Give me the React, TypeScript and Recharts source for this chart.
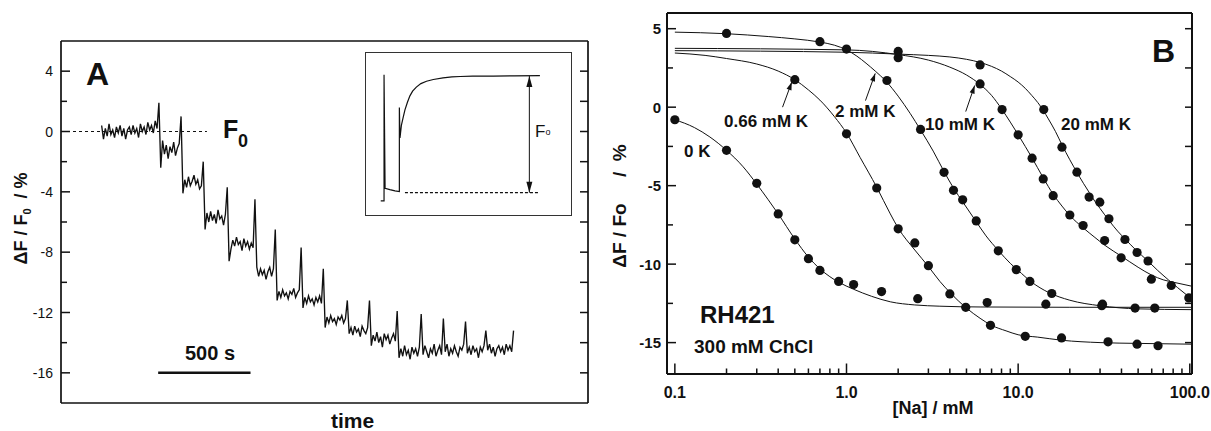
import {
  ComposedChart,
  Line,
  ReferenceLine,
  Scatter,
  XAxis,
  YAxis,
} from "recharts";

const FONT = '"Liberation Sans", Arial, Helvetica, sans-serif';
const INK = "#111";

// ---------- Panel A: stepwise fluorescence trace ----------
const A_T_DOMAIN: [number, number] = [0, 2853]; // s
const A_Y_DOMAIN: [number, number] = [-18, 6];
const A_Y_TICKS = [4, 2, 0, -2, -4, -6, -8, -10, -12, -14, -16];
const A_Y_LABELED = [4, 0, -4, -8, -12, -16];

const TRACE_START = 220; // s
const TRACE_STEP = 10; // s between samples
// ΔF/F0 in %
const TRACE = [
  0.4, -0.5, 0.2, -0.3, 0.5, -0.2, 0.1, -0.4, 0.3, -0.1, 0.4, -0.3, 0.2, -0.5, 0.1, 0.3,
  -0.2, 0.4, -0.1, 0.2, -0.4, 0.5, 0.0, 0.3, -0.2, 0.6, 0.1, 0.4, -0.1, 0.7, 0.2,
  1.9, -2.4,
  -0.6, -1.5, -0.9, -1.8, -1.0, -1.4, -0.7, -1.6, -1.1, -0.8,
  1.0,
  -4.1, -3.2, -3.7, -3.0, -3.6, -3.3, -2.9, -3.5, -3.2, -3.8, -3.6,
  -2.0,
  -6.5, -5.4, -6.0, -5.3, -5.9, -5.5, -6.1, -5.2, -5.8, -5.6, -6.2, -5.5,
  -3.7, -8.6,
  -7.8, -7.2, -7.6, -7.0, -7.5, -7.3, -7.9, -7.1, -7.6, -7.3, -7.8, -7.4, -7.7,
  -4.5,
  -9.0, -9.6, -9.1, -9.5, -9.2, -9.8, -9.3, -9.0, -9.6, -9.1,
  -6.5,
  -11.2, -10.6, -11.0, -10.5, -10.9, -10.7, -11.1, -10.6, -10.8, -10.4, -11.0, -10.7, -10.5,
  -7.7,
  -11.7, -11.0, -11.4, -10.9, -11.3, -11.1, -11.5, -11.0, -11.3, -10.9, -11.4,
  -9.1,
  -13.0, -12.3, -12.7, -12.2, -12.6, -12.4, -12.8, -12.3, -12.5, -12.2, -12.7, -12.4,
  -11.2,
  -13.4, -13.0, -13.5, -12.9, -13.3, -13.1, -13.6, -12.9, -13.2, -13.4, -13.0,
  -11.2,
  -14.2, -13.5, -13.9, -13.3, -14.0, -13.6, -14.3, -13.4, -13.8, -13.5, -14.1, -13.7, -13.4, -13.9,
  -11.9,
  -15.0, -14.4, -14.9, -14.2, -14.8, -14.5, -15.1, -14.3, -14.7, -14.4, -14.9, -14.3,
  -12.1,
  -14.8, -14.2, -14.6, -15.0, -14.4, -14.7, -14.1, -14.9, -14.5, -14.2, -14.8,
  -12.4,
  -14.6, -14.1, -14.9, -14.4, -14.7, -14.2, -14.6, -14.9, -14.3, -14.5, -14.1,
  -12.6,
  -14.7, -14.3, -14.8, -14.2, -14.6, -14.4, -15.0, -14.3, -14.6, -14.2,
  -13.2,
  -14.5, -14.1, -14.7, -14.3, -14.9, -14.4, -14.2, -14.6, -14.3, -14.8, -14.1, -14.5, -14.2, -14.6,
  -13.2,
];
const F0_LINE_END = 790; // s
const SCALE_BAR_START = 526; // s
const SCALE_BAR_LEN = 500; // s
const SCALE_BAR_LEVEL = -16;

// inset: single addition, arbitrary units (0 = baseline, 100 = F0)
const INSET_T = [7.6, 9.2, 9.2, 9.7, 12.0, 14.5, 16.6, 16.6, 16.9, 17.6, 18.5, 19.3, 20.5, 21.7, 23.0, 24.8, 27.0, 29.7, 33.0, 37.7, 42.0, 46.0, 52.0, 62.0, 72.0, 84.5];
const INSET_F = [-7, -7, 101, 3.8, 2.6, 1.6, 0.9, 73, 47, 58, 65, 71, 77.5, 83, 87, 90.5, 93.5, 95.5, 97, 98.4, 99.2, 99.6, 99.9, 100, 100.2, 100.3];
const INSET_BASE: [number, number] = [19.3, 84.3];
const INSET_ARROW_AT = 79.4;

// ---------- Panel B: titrations vs [Na] ----------
const B_X_DOMAIN: [number, number] = [0.09, 103];
const B_Y_DOMAIN: [number, number] = [-17, 6];
const B_X_MAJOR = [0.1, 1, 10, 100];
const B_X_MINOR = [0.2, 0.3, 0.4, 0.5, 0.6, 0.7, 0.8, 0.9, 2, 3, 4, 5, 6, 7, 8, 9, 20, 30, 40, 50, 60, 70, 80, 90];
const B_Y_MAJOR = [5, 0, -5, -10, -15];
const B_Y_MINOR = [2.5, -2.5, -7.5, -12.5];

type P = [number, number];

const PTS_0K: P[] = [[0.1, -0.8], [0.2, -2.75], [0.3, -4.85], [0.4, -6.8], [0.5, -8.45], [0.6, -9.65], [0.7, -10.4], [0.9, -11.1], [1.1, -11.3], [1.6, -11.75], [2.6, -12.2], [6.6, -12.45], [14.5, -12.55], [31, -12.55]];
const FIT_0K: P[] = [[0.1, -0.8], [0.13, -1.3], [0.16, -1.9], [0.2, -2.75], [0.25, -3.8], [0.3, -4.9], [0.35, -5.9], [0.4, -6.8], [0.5, -8.4], [0.6, -9.55], [0.7, -10.3], [0.8, -10.8], [0.9, -11.15], [1.1, -11.6], [1.4, -12.05], [1.8, -12.4], [2.5, -12.6], [3.5, -12.68], [6, -12.73], [20, -12.75], [102, -12.75]];

const PTS_066: P[] = [[0.5, 1.75], [1.0, -1.7], [1.5, -5.15], [2.0, -7.75], [2.5, -8.65], [3.0, -10.1], [4.0, -11.9], [4.95, -12.75], [6.9, -13.9], [11, -14.6], [17.9, -14.7], [33.4, -14.95], [49.3, -15.1], [65.3, -15.2]];
const FIT_066: P[] = [[0.1, 3.45], [0.15, 3.3], [0.2, 3.1], [0.3, 2.75], [0.4, 2.3], [0.5, 1.75], [0.6, 1.1], [0.7, 0.45], [0.85, -0.6], [1.0, -1.65], [1.2, -3.2], [1.5, -5.1], [1.8, -6.8], [2.0, -7.7], [2.5, -9.1], [3.0, -10.15], [3.5, -11.1], [4.0, -11.8], [5.0, -12.8], [6.0, -13.45], [7.0, -13.9], [8.5, -14.25], [10, -14.5], [13, -14.65], [18, -14.85], [30, -15.0], [50, -15.05], [102, -15.1]];

const PTS_2: P[] = [[0.2, 4.7], [0.7, 4.17], [1.0, 3.7], [1.72, 1.7], [2.7, -1.42], [3.7, -4.15], [4.2, -5.3], [4.75, -5.9], [5.7, -7.25], [7.66, -9.15], [9.75, -10.35], [11.7, -11.1], [15.7, -11.87], [30.7, -12.65], [48, -12.8], [62.5, -12.8]];
const FIT_2: P[] = [[0.1, 4.78], [0.2, 4.68], [0.35, 4.5], [0.5, 4.35], [0.7, 4.15], [0.85, 3.95], [1.0, 3.65], [1.15, 3.25], [1.3, 2.8], [1.47, 2.3], [1.7, 1.65], [2.0, 0.7], [2.35, -0.4], [2.7, -1.45], [3.2, -2.8], [3.7, -4.1], [4.2, -5.15], [4.8, -6.1], [5.7, -7.3], [6.5, -8.2], [7.7, -9.15], [9.0, -9.95], [10, -10.4], [12, -11.15], [15, -11.8], [20, -12.3], [30, -12.65], [50, -12.85], [102, -12.9]];

const PTS_10: P[] = [[2.0, 3.15], [6.0, 1.48], [8.06, -0.15], [10, -1.76], [12.06, -3.25], [14, -4.57], [16, -5.64], [20, -6.87], [23.9, -7.54], [31.9, -8.5], [39.8, -9.6], [59.7, -10.96], [78, -11.36]];
const FIT_10: P[] = [[0.1, 3.75], [1, 3.65], [2, 3.35], [3, 3.0], [4, 2.55], [5, 2.05], [6, 1.45], [7, 0.75], [8, -0.1], [9, -0.95], [10, -1.75], [11, -2.5], [12, -3.2], [14, -4.5], [16, -5.55], [18, -6.3], [20, -6.9], [24, -7.7], [28, -8.3], [32, -8.8], [40, -9.5], [50, -10.2], [60, -10.7], [70, -11.0], [80, -11.15], [102, -11.4]];

const PTS_20: P[] = [[2.0, 3.55], [6.0, 2.69], [14.1, -0.15], [18, -2.55], [22, -4.14], [25.9, -5.73], [29.9, -6.05], [33.8, -7.11], [41.9, -8.43], [49.3, -9.26], [57.1, -9.8], [98.7, -12.15]];
const FIT_20: P[] = [[0.1, 3.6], [1, 3.5], [2, 3.38], [3, 3.3], [4, 3.2], [5, 3.05], [6, 2.85], [7, 2.6], [8, 2.3], [9, 1.95], [10, 1.6], [11, 1.2], [12, 0.75], [13, 0.3], [14, -0.2], [15, -0.75], [16.5, -1.55], [18, -2.4], [20, -3.35], [22, -4.15], [24, -4.85], [26, -5.45], [28, -6.0], [30, -6.45], [34, -7.25], [38, -7.9], [42, -8.4], [48, -9.05], [57, -9.8], [65, -10.4], [75, -11.0], [85, -11.5], [102, -12.2]];

// label arrows: tail -> tip, in data units
const ARROW_066: [P, P] = [[0.424, 0.0], [0.48, 1.6]];
const ARROW_2: [P, P] = [[1.29, 0.42], [1.47, 2.15]];
const ARROW_10: [P, P] = [[4.95, -0.28], [5.58, 1.38]];

const xy = (pts: P[]) => pts.map(([x, y]) => ({ x, y }));
const traceData = TRACE.map((v, i) => ({ t: TRACE_START + i * TRACE_STEP, v }));
const insetData = INSET_T.map((t, i) => ({ t, f: INSET_F[i] }));

function arrowShape(both: boolean, len: number, half: number) {
  return (p: any) => {
    const { x1, y1, x2, y2 } = p;
    const d = Math.hypot(x2 - x1, y2 - y1) || 1;
    const ux = (x2 - x1) / d;
    const uy = (y2 - y1) / d;
    const head = (tx: number, ty: number, s: number) => {
      const bx = tx - s * ux * len;
      const by = ty - s * uy * len;
      return `${tx},${ty} ${bx - uy * half},${by + ux * half} ${bx + uy * half},${by - ux * half}`;
    };
    return (
      <g>
        <line x1={x1} y1={y1} x2={x2} y2={y2} stroke={INK} strokeWidth={1} />
        <polygon points={head(x2, y2, 1)} fill={INK} />
        {both && <polygon points={head(x1, y1, -1)} fill={INK} />}
      </g>
    );
  };
}

const aYTick = (side: "left" | "right") => (p: any) => {
  const v = p.payload.value as number;
  if (side === "right") {
    return <line x1={p.x} x2={p.x - 8} y1={p.y} y2={p.y} stroke={INK} strokeWidth={1.5} />;
  }
  const major = A_Y_LABELED.includes(v);
  return (
    <g>
      <line x1={p.x} x2={p.x + (major ? 9 : 6)} y1={p.y} y2={p.y} stroke={INK} strokeWidth={1.5} />
      {major && (
        <text x={p.x - 8} y={p.y} dy="0.36em" textAnchor="end" fontSize={14} fontFamily={FONT} fill={INK}>
          {v}
        </text>
      )}
    </g>
  );
};

const bYTick = (side: "left" | "right") => (p: any) => {
  const v = p.payload.value as number;
  const major = B_Y_MAJOR.includes(v);
  const dir = side === "left" ? 1 : -1;
  const len = side === "left" ? (major ? 9 : 6) : 7;
  return (
    <g>
      <line x1={p.x} x2={p.x + dir * len} y1={p.y} y2={p.y} stroke={INK} strokeWidth={1.5} />
      {side === "left" && major && (
        <text x={p.x - 6} y={p.y} dy="0.36em" textAnchor="end" fontSize={15} fontWeight="bold" fontFamily={FONT} fill={INK}>
          {v}
        </text>
      )}
    </g>
  );
};

const bXTick = (side: "top" | "bottom") => (p: any) => {
  const v = p.payload.value as number;
  const major = B_X_MAJOR.includes(v);
  const dir = side === "bottom" ? -1 : 1;
  const len = major ? 10.5 : 5.5;
  return (
    <g>
      <line x1={p.x} x2={p.x} y1={p.y} y2={p.y + dir * len} stroke={INK} strokeWidth={1.5} />
      {side === "bottom" && major && (
        <text x={p.x} y={p.y + 24} textAnchor="middle" fontSize={16} fontWeight="bold" fontFamily={FONT} fill={INK}>
          {v.toFixed(1)}
        </text>
      )}
    </g>
  );
};

const frameA = { stroke: INK, strokeWidth: 1.7 };
const frameB = { stroke: INK, strokeWidth: 2 };
const dot = (p: any) => <circle cx={p.cx} cy={p.cy} r={4.6} fill={INK} />;

function PanelA() {
  return (
    <ComposedChart width={600} height={431} margin={{ top: 0, right: 0, bottom: 0, left: 0 }}>
      <XAxis type="number" dataKey="t" domain={A_T_DOMAIN} allowDataOverflow height={28} tick={false} tickLine={false} axisLine={frameA} />
      <XAxis xAxisId="top" orientation="top" type="number" domain={A_T_DOMAIN} allowDataOverflow height={41} tick={false} tickLine={false} axisLine={frameA} />
      <YAxis type="number" domain={A_Y_DOMAIN} allowDataOverflow width={61} ticks={A_Y_TICKS} interval={0} tickSize={0} tickMargin={0} tickLine={false} axisLine={frameA} tick={aYTick("left")} />
      <YAxis yAxisId="right" orientation="right" type="number" domain={A_Y_DOMAIN} allowDataOverflow width={12} ticks={A_Y_TICKS} interval={0} tickSize={0} tickMargin={0} tickLine={false} axisLine={frameA} tick={aYTick("right")} />
      <ReferenceLine segment={[{ x: 0, y: 0 }, { x: F0_LINE_END, y: 0 }]} stroke={INK} strokeWidth={1} strokeDasharray="3 3" />
      <ReferenceLine
        segment={[{ x: SCALE_BAR_START, y: SCALE_BAR_LEVEL }, { x: SCALE_BAR_START + SCALE_BAR_LEN, y: SCALE_BAR_LEVEL }]}
        stroke={INK}
        strokeWidth={2.5}
      />
      <Line data={traceData} dataKey="v" type="linear" dot={false} stroke={INK} strokeWidth={1.35} isAnimationActive={false} />
    </ComposedChart>
  );
}

function Inset() {
  return (
    <ComposedChart width={207} height={164} margin={{ top: 0, right: 0, bottom: 0, left: 0 }}>
      <XAxis hide type="number" dataKey="t" domain={[0, 100]} allowDataOverflow />
      <YAxis hide type="number" domain={[-20, 120.6]} allowDataOverflow />
      <ReferenceLine segment={[{ x: INSET_BASE[0], y: 0 }, { x: INSET_BASE[1], y: 0 }]} stroke={INK} strokeWidth={1.3} strokeDasharray="3 2" />
      <ReferenceLine segment={[{ x: INSET_ARROW_AT, y: 0 }, { x: INSET_ARROW_AT, y: 100 }]} shape={arrowShape(true, 11, 3)} />
      <Line data={insetData} dataKey="f" type="linear" dot={false} stroke={INK} strokeWidth={1.2} isAnimationActive={false} />
    </ComposedChart>
  );
}

const SERIES: { pts: P[]; fit: P[] }[] = [
  { pts: PTS_0K, fit: FIT_0K },
  { pts: PTS_066, fit: FIT_066 },
  { pts: PTS_2, fit: FIT_2 },
  { pts: PTS_10, fit: FIT_10 },
  { pts: PTS_20, fit: FIT_20 },
];

function PanelB() {
  const xTicks = [...B_X_MAJOR, ...B_X_MINOR].sort((a, b) => a - b);
  const yTicks = [...B_Y_MAJOR, ...B_Y_MINOR].sort((a, b) => b - a);
  return (
    <ComposedChart width={611} height={431} margin={{ top: 0, right: 0, bottom: 0, left: 0 }}>
      <XAxis type="number" scale="log" dataKey="x" domain={B_X_DOMAIN} allowDataOverflow height={57} ticks={xTicks} interval={0} tickSize={0} tickMargin={0} tickLine={false} axisLine={frameB} tick={bXTick("bottom")} />
      <XAxis xAxisId="top" orientation="top" type="number" scale="log" domain={B_X_DOMAIN} allowDataOverflow height={13} ticks={xTicks} interval={0} tickSize={0} tickMargin={0} tickLine={false} axisLine={frameB} tick={bXTick("top")} />
      <YAxis type="number" dataKey="y" domain={B_Y_DOMAIN} allowDataOverflow width={67} ticks={yTicks} interval={0} tickSize={0} tickMargin={0} tickLine={false} axisLine={frameB} tick={bYTick("left")} />
      <YAxis yAxisId="right" orientation="right" type="number" domain={B_Y_DOMAIN} allowDataOverflow width={19} ticks={yTicks} interval={0} tickSize={0} tickMargin={0} tickLine={false} axisLine={frameB} tick={bYTick("right")} />
      {SERIES.map((s, i) => (
        <Line key={`f${i}`} data={xy(s.fit)} dataKey="y" type="monotone" dot={false} stroke={INK} strokeWidth={1} isAnimationActive={false} />
      ))}
      {SERIES.map((s, i) => (
        <Scatter key={`p${i}`} data={xy(s.pts)} dataKey="y" fill={INK} shape={dot} isAnimationActive={false} />
      ))}
      {[ARROW_066, ARROW_2, ARROW_10].map(([a, b], i) => (
        <ReferenceLine key={`a${i}`} segment={[{ x: a[0], y: a[1] }, { x: b[0], y: b[1] }]} shape={arrowShape(false, 8, 2.6)} />
      ))}
    </ComposedChart>
  );
}

function Labels() {
  const bold = { fontWeight: "bold" as const };
  return (
    <svg width={1211} height={431} style={{ position: "absolute", left: 0, top: 0, pointerEvents: "none" }} fontFamily={FONT} fill={INK}>
      {/* panel A */}
      <text x={86} y={85} fontSize={32} {...bold}>A</text>
      <text x={223} y={138} fontSize={25} {...bold}>F</text>
      <text x={238} y={147} fontSize={18} {...bold}>0</text>
      <text x={185} y={360} fontSize={20} {...bold}>500 s</text>
      <text x={331} y={428} fontSize={21} {...bold}>time</text>
      <text transform="translate(27,218.5) rotate(-90)" textAnchor="middle" fontSize={18} style={{ whiteSpace: "pre" }} {...bold}>
        ΔF / F<tspan fontSize={11} dy={4}>0</tspan>
        <tspan dy={-4}>{"  / %"}</tspan>
      </text>
      <text x={535} y={137} fontSize={17}>
        F<tspan fontSize={9} dy={-2}>o</tspan>
      </text>
      {/* panel B */}
      <text x={1152} y={62} fontSize={32} {...bold}>B</text>
      <text x={684} y={157} fontSize={17} {...bold}>0 K</text>
      <text x={724} y={127} fontSize={17} {...bold}>0.66 mM K</text>
      <text x={835} y={117} fontSize={17} {...bold}>2 mM K</text>
      <text x={925} y={130} fontSize={17} {...bold}>10 mM K</text>
      <text x={1061} y={130} fontSize={17} {...bold}>20 mM K</text>
      <text x={700} y={323} fontSize={24} {...bold}>RH421</text>
      <text x={694} y={353} fontSize={19} {...bold}>300 mM ChCl</text>
      <text x={933} y={414} fontSize={18} textAnchor="middle" {...bold}>[Na] / mM</text>
      <text transform="translate(626,206) rotate(-90)" textAnchor="middle" fontSize={19} style={{ whiteSpace: "pre" }} {...bold}>
        {"ΔF / Fo     /  %"}
      </text>
    </svg>
  );
}

export default function App() {
  return (
    <div style={{ position: "absolute", left: 0, top: 0, width: 1211, height: 431, background: "#fff", overflow: "hidden" }}>
      <div style={{ position: "absolute", left: 0, top: 0 }}>
        <PanelA />
      </div>
      <div style={{ position: "absolute", left: 365, top: 52, width: 207, height: 164, border: "1.5px solid #333", boxSizing: "border-box" }} />
      <div style={{ position: "absolute", left: 365, top: 52 }}>
        <Inset />
      </div>
      <div style={{ position: "absolute", left: 600, top: 0 }}>
        <PanelB />
      </div>
      <Labels />
    </div>
  );
}
